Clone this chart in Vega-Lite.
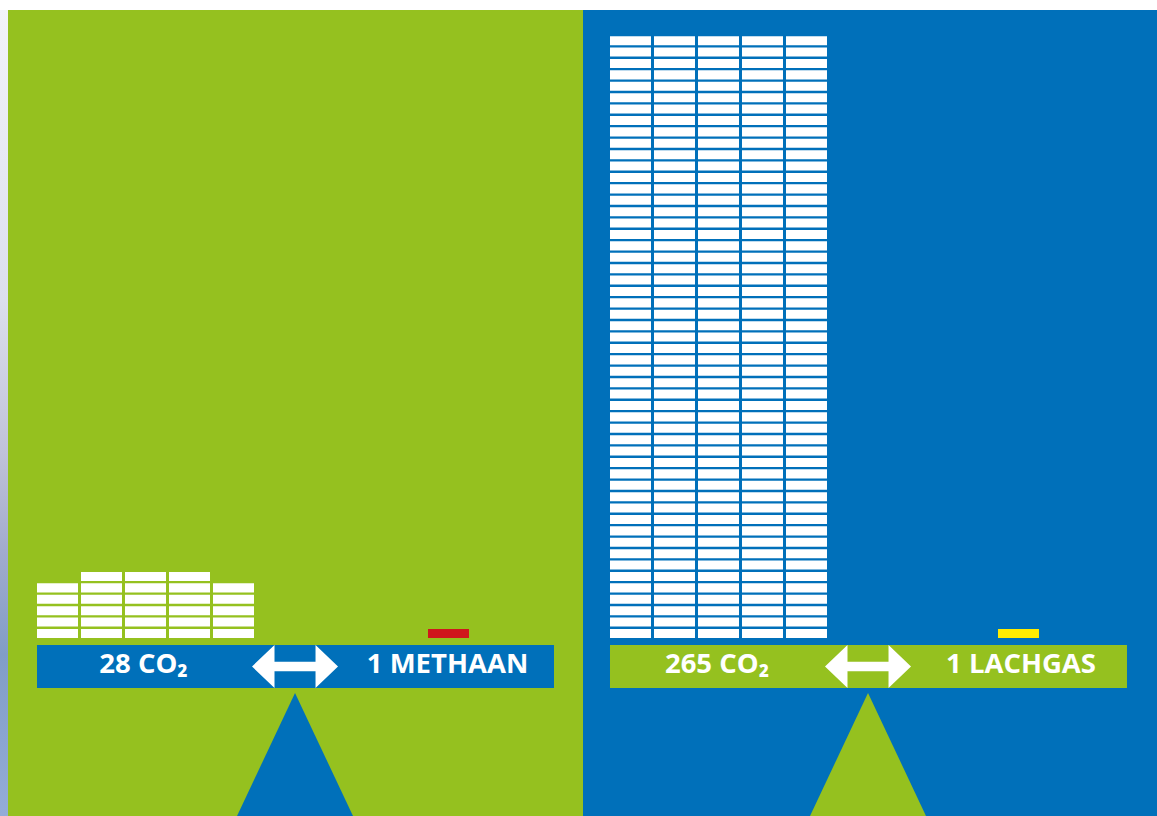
{
  "$schema": "https://vega.github.io/schema/vega-lite/v6.json",
  "background": "white",
  "padding": {"left": 0, "top": 10, "right": 0, "bottom": 0},
  "spacing": 0,
  "bounds": "flush",
  "config": {"view": {"stroke": null}, "concat": {"spacing": 0}},
  "datasets": {
    "methaan_co2": [
      {"c":1,"l":1},{"c":1,"l":2},{"c":1,"l":3},{"c":1,"l":4},{"c":1,"l":5},
      {"c":2,"l":1},{"c":2,"l":2},{"c":2,"l":3},{"c":2,"l":4},{"c":2,"l":5},{"c":2,"l":6},
      {"c":3,"l":1},{"c":3,"l":2},{"c":3,"l":3},{"c":3,"l":4},{"c":3,"l":5},{"c":3,"l":6},
      {"c":4,"l":1},{"c":4,"l":2},{"c":4,"l":3},{"c":4,"l":4},{"c":4,"l":5},{"c":4,"l":6},
      {"c":5,"l":1},{"c":5,"l":2},{"c":5,"l":3},{"c":5,"l":4},{"c":5,"l":5}
    ],
    "lachgas_co2": [
      {"c":1,"l":1},{"c":2,"l":1},{"c":3,"l":1},{"c":4,"l":1},{"c":5,"l":1},
      {"c":1,"l":2},{"c":2,"l":2},{"c":3,"l":2},{"c":4,"l":2},{"c":5,"l":2},
      {"c":1,"l":3},{"c":2,"l":3},{"c":3,"l":3},{"c":4,"l":3},{"c":5,"l":3},
      {"c":1,"l":4},{"c":2,"l":4},{"c":3,"l":4},{"c":4,"l":4},{"c":5,"l":4},
      {"c":1,"l":5},{"c":2,"l":5},{"c":3,"l":5},{"c":4,"l":5},{"c":5,"l":5},
      {"c":1,"l":6},{"c":2,"l":6},{"c":3,"l":6},{"c":4,"l":6},{"c":5,"l":6},
      {"c":1,"l":7},{"c":2,"l":7},{"c":3,"l":7},{"c":4,"l":7},{"c":5,"l":7},
      {"c":1,"l":8},{"c":2,"l":8},{"c":3,"l":8},{"c":4,"l":8},{"c":5,"l":8},
      {"c":1,"l":9},{"c":2,"l":9},{"c":3,"l":9},{"c":4,"l":9},{"c":5,"l":9},
      {"c":1,"l":10},{"c":2,"l":10},{"c":3,"l":10},{"c":4,"l":10},{"c":5,"l":10},
      {"c":1,"l":11},{"c":2,"l":11},{"c":3,"l":11},{"c":4,"l":11},{"c":5,"l":11},
      {"c":1,"l":12},{"c":2,"l":12},{"c":3,"l":12},{"c":4,"l":12},{"c":5,"l":12},
      {"c":1,"l":13},{"c":2,"l":13},{"c":3,"l":13},{"c":4,"l":13},{"c":5,"l":13},
      {"c":1,"l":14},{"c":2,"l":14},{"c":3,"l":14},{"c":4,"l":14},{"c":5,"l":14},
      {"c":1,"l":15},{"c":2,"l":15},{"c":3,"l":15},{"c":4,"l":15},{"c":5,"l":15},
      {"c":1,"l":16},{"c":2,"l":16},{"c":3,"l":16},{"c":4,"l":16},{"c":5,"l":16},
      {"c":1,"l":17},{"c":2,"l":17},{"c":3,"l":17},{"c":4,"l":17},{"c":5,"l":17},
      {"c":1,"l":18},{"c":2,"l":18},{"c":3,"l":18},{"c":4,"l":18},{"c":5,"l":18},
      {"c":1,"l":19},{"c":2,"l":19},{"c":3,"l":19},{"c":4,"l":19},{"c":5,"l":19},
      {"c":1,"l":20},{"c":2,"l":20},{"c":3,"l":20},{"c":4,"l":20},{"c":5,"l":20},
      {"c":1,"l":21},{"c":2,"l":21},{"c":3,"l":21},{"c":4,"l":21},{"c":5,"l":21},
      {"c":1,"l":22},{"c":2,"l":22},{"c":3,"l":22},{"c":4,"l":22},{"c":5,"l":22},
      {"c":1,"l":23},{"c":2,"l":23},{"c":3,"l":23},{"c":4,"l":23},{"c":5,"l":23},
      {"c":1,"l":24},{"c":2,"l":24},{"c":3,"l":24},{"c":4,"l":24},{"c":5,"l":24},
      {"c":1,"l":25},{"c":2,"l":25},{"c":3,"l":25},{"c":4,"l":25},{"c":5,"l":25},
      {"c":1,"l":26},{"c":2,"l":26},{"c":3,"l":26},{"c":4,"l":26},{"c":5,"l":26},
      {"c":1,"l":27},{"c":2,"l":27},{"c":3,"l":27},{"c":4,"l":27},{"c":5,"l":27},
      {"c":1,"l":28},{"c":2,"l":28},{"c":3,"l":28},{"c":4,"l":28},{"c":5,"l":28},
      {"c":1,"l":29},{"c":2,"l":29},{"c":3,"l":29},{"c":4,"l":29},{"c":5,"l":29},
      {"c":1,"l":30},{"c":2,"l":30},{"c":3,"l":30},{"c":4,"l":30},{"c":5,"l":30},
      {"c":1,"l":31},{"c":2,"l":31},{"c":3,"l":31},{"c":4,"l":31},{"c":5,"l":31},
      {"c":1,"l":32},{"c":2,"l":32},{"c":3,"l":32},{"c":4,"l":32},{"c":5,"l":32},
      {"c":1,"l":33},{"c":2,"l":33},{"c":3,"l":33},{"c":4,"l":33},{"c":5,"l":33},
      {"c":1,"l":34},{"c":2,"l":34},{"c":3,"l":34},{"c":4,"l":34},{"c":5,"l":34},
      {"c":1,"l":35},{"c":2,"l":35},{"c":3,"l":35},{"c":4,"l":35},{"c":5,"l":35},
      {"c":1,"l":36},{"c":2,"l":36},{"c":3,"l":36},{"c":4,"l":36},{"c":5,"l":36},
      {"c":1,"l":37},{"c":2,"l":37},{"c":3,"l":37},{"c":4,"l":37},{"c":5,"l":37},
      {"c":1,"l":38},{"c":2,"l":38},{"c":3,"l":38},{"c":4,"l":38},{"c":5,"l":38},
      {"c":1,"l":39},{"c":2,"l":39},{"c":3,"l":39},{"c":4,"l":39},{"c":5,"l":39},
      {"c":1,"l":40},{"c":2,"l":40},{"c":3,"l":40},{"c":4,"l":40},{"c":5,"l":40},
      {"c":1,"l":41},{"c":2,"l":41},{"c":3,"l":41},{"c":4,"l":41},{"c":5,"l":41},
      {"c":1,"l":42},{"c":2,"l":42},{"c":3,"l":42},{"c":4,"l":42},{"c":5,"l":42},
      {"c":1,"l":43},{"c":2,"l":43},{"c":3,"l":43},{"c":4,"l":43},{"c":5,"l":43},
      {"c":1,"l":44},{"c":2,"l":44},{"c":3,"l":44},{"c":4,"l":44},{"c":5,"l":44},
      {"c":1,"l":45},{"c":2,"l":45},{"c":3,"l":45},{"c":4,"l":45},{"c":5,"l":45},
      {"c":1,"l":46},{"c":2,"l":46},{"c":3,"l":46},{"c":4,"l":46},{"c":5,"l":46},
      {"c":1,"l":47},{"c":2,"l":47},{"c":3,"l":47},{"c":4,"l":47},{"c":5,"l":47},
      {"c":1,"l":48},{"c":2,"l":48},{"c":3,"l":48},{"c":4,"l":48},{"c":5,"l":48},
      {"c":1,"l":49},{"c":2,"l":49},{"c":3,"l":49},{"c":4,"l":49},{"c":5,"l":49},
      {"c":1,"l":50},{"c":2,"l":50},{"c":3,"l":50},{"c":4,"l":50},{"c":5,"l":50},
      {"c":1,"l":51},{"c":2,"l":51},{"c":3,"l":51},{"c":4,"l":51},{"c":5,"l":51},
      {"c":1,"l":52},{"c":2,"l":52},{"c":3,"l":52},{"c":4,"l":52},{"c":5,"l":52},
      {"c":1,"l":53},{"c":2,"l":53},{"c":3,"l":53},{"c":4,"l":53},{"c":5,"l":53}
    ]
  },
  "hconcat": [
    {
      "width": 8,
      "height": 806,
      "view": {"fill": "#b9c0da", "stroke": null},
      "data": {"values": [{"k": 1}]},
      "mark": {"type": "rect", "color": {"gradient": "linear", "x1": 0, "y1": 0, "x2": 0, "y2": 1, "stops": [{"offset": 0, "color": "#f3f4f9"}, {"offset": 0.36, "color": "#dcdfee"}, {"offset": 0.55, "color": "#c0c2d9"}, {"offset": 0.67, "color": "#a2abcd"}, {"offset": 0.8, "color": "#819dc7"}, {"offset": 1, "color": "#94acd8"}]}},
      "encoding": {}
    },
    {
      "width": 575,
      "height": 806,
      "view": {"fill": "#95C11F", "stroke": null},
      "layer": [
        {
          "data": {"values": [{"c0": 0.534, "c1": 12.284, "l0": -0.009, "l1": -3.781}]},
          "mark": {"type": "rect", "color": "#0070BA"},
          "encoding": {
            "x": {"field": "c0", "type": "quantitative", "scale": {"domain": [-0.125, 12.943], "zero": false, "nice": false}, "axis": null},
            "x2": {"field": "c1"},
            "y": {"field": "l0", "type": "quantitative", "scale": {"domain": [-15.01, 55.69], "zero": false, "nice": false}, "axis": null},
            "y2": {"field": "l1"}
          }
        },
        {
          "data": {"name": "methaan_co2"},
          "mark": {"type": "point", "shape": "M-1,-0.22H1V0.22H-1Z", "size": 1681, "filled": true, "opacity": 1, "color": "#ffffff", "strokeWidth": 0},
          "encoding": {
            "x": {"field": "c", "type": "quantitative", "scale": {"domain": [-0.125, 12.943], "zero": false, "nice": false}, "axis": null},
            "y": {"field": "l", "type": "quantitative", "scale": {"domain": [-15.01, 55.69], "zero": false, "nice": false}, "axis": null}
          }
        },
        {
          "data": {"values": [{"gas": "methaan", "c": 9.886, "l": 1}]},
          "mark": {"type": "point", "shape": "M-1,-0.22H1V0.22H-1Z", "size": 1681, "filled": true, "opacity": 1, "color": "#D0161C", "strokeWidth": 0},
          "encoding": {
            "x": {"field": "c", "type": "quantitative", "axis": null},
            "y": {"field": "l", "type": "quantitative", "axis": null}
          }
        },
        {
          "data": {"values": [{"part": "pijl", "c": 6.398, "l": -1.895}]},
          "mark": {"type": "point", "shape": "M-1,0L-0.477,-0.5L-0.477,-0.11L0.477,-0.11L0.477,-0.5L1,0L0.477,0.5L0.477,0.11L-0.477,0.11L-0.477,0.5Z", "size": 7396, "filled": true, "opacity": 1, "color": "#ffffff", "strokeWidth": 0},
          "encoding": {
            "x": {"field": "c", "type": "quantitative", "axis": null},
            "y": {"field": "l", "type": "quantitative", "axis": null}
          }
        },
        {
          "data": {"values": [{"part": "steunpunt", "c": 6.398, "l": -9.614}]},
          "mark": {"type": "point", "shape": "M0,-1L0.943,1L-0.943,1Z", "size": 15129, "filled": true, "opacity": 1, "color": "#0070BA", "strokeWidth": 0, "clip": true},
          "encoding": {
            "x": {"field": "c", "type": "quantitative", "axis": null},
            "y": {"field": "l", "type": "quantitative", "axis": null}
          }
        },
        {
          "data": {"values": [{"label": "28 CO₂", "c": 2.955, "l": -2.509}, {"label": "1 METHAAN", "c": 9.864, "l": -2.509}]},
          "mark": {"type": "text", "font": "Open Sans", "fontWeight": "bold", "fontSize": 27.5, "color": "#ffffff", "align": "center", "baseline": "alphabetic"},
          "encoding": {
            "x": {"field": "c", "type": "quantitative", "axis": null},
            "y": {"field": "l", "type": "quantitative", "axis": null},
            "text": {"field": "label"}
          }
        }
      ]
    },
    {
      "width": 574,
      "height": 806,
      "view": {"fill": "#0070BA", "stroke": null},
      "layer": [
        {
          "data": {"values": [{"c0": 0.534, "c1": 12.284, "l0": -0.009, "l1": -3.781}]},
          "mark": {"type": "rect", "color": "#95C11F"},
          "encoding": {
            "x": {"field": "c0", "type": "quantitative", "scale": {"domain": [-0.0795, 12.966], "zero": false, "nice": false}, "axis": null},
            "x2": {"field": "c1"},
            "y": {"field": "l0", "type": "quantitative", "scale": {"domain": [-15.01, 55.69], "zero": false, "nice": false}, "axis": null},
            "y2": {"field": "l1"}
          }
        },
        {
          "data": {"name": "lachgas_co2"},
          "mark": {"type": "point", "shape": "M-1,-0.22H1V0.22H-1Z", "size": 1681, "filled": true, "opacity": 1, "color": "#ffffff", "strokeWidth": 0},
          "encoding": {
            "x": {"field": "c", "type": "quantitative", "scale": {"domain": [-0.0795, 12.966], "zero": false, "nice": false}, "axis": null},
            "y": {"field": "l", "type": "quantitative", "scale": {"domain": [-15.01, 55.69], "zero": false, "nice": false}, "axis": null}
          }
        },
        {
          "data": {"values": [{"gas": "lachgas", "c": 9.818, "l": 1}]},
          "mark": {"type": "point", "shape": "M-1,-0.22H1V0.22H-1Z", "size": 1681, "filled": true, "opacity": 1, "color": "#FFEC00", "strokeWidth": 0},
          "encoding": {
            "x": {"field": "c", "type": "quantitative", "axis": null},
            "y": {"field": "l", "type": "quantitative", "axis": null}
          }
        },
        {
          "data": {"values": [{"part": "pijl", "c": 6.398, "l": -1.895}]},
          "mark": {"type": "point", "shape": "M-1,0L-0.477,-0.5L-0.477,-0.11L0.477,-0.11L0.477,-0.5L1,0L0.477,0.5L0.477,0.11L-0.477,0.11L-0.477,0.5Z", "size": 7396, "filled": true, "opacity": 1, "color": "#ffffff", "strokeWidth": 0},
          "encoding": {
            "x": {"field": "c", "type": "quantitative", "axis": null},
            "y": {"field": "l", "type": "quantitative", "axis": null}
          }
        },
        {
          "data": {"values": [{"part": "steunpunt", "c": 6.398, "l": -9.614}]},
          "mark": {"type": "point", "shape": "M0,-1L0.943,1L-0.943,1Z", "size": 15129, "filled": true, "opacity": 1, "color": "#95C11F", "strokeWidth": 0, "clip": true},
          "encoding": {
            "x": {"field": "c", "type": "quantitative", "axis": null},
            "y": {"field": "l", "type": "quantitative", "axis": null}
          }
        },
        {
          "data": {"values": [{"label": "265 CO₂", "c": 2.966, "l": -2.509}, {"label": "1 LACHGAS", "c": 9.875, "l": -2.509}]},
          "mark": {"type": "text", "font": "Open Sans", "fontWeight": "bold", "fontSize": 27.5, "color": "#ffffff", "align": "center", "baseline": "alphabetic"},
          "encoding": {
            "x": {"field": "c", "type": "quantitative", "axis": null},
            "y": {"field": "l", "type": "quantitative", "axis": null},
            "text": {"field": "label"}
          }
        }
      ]
    }
  ]
}
